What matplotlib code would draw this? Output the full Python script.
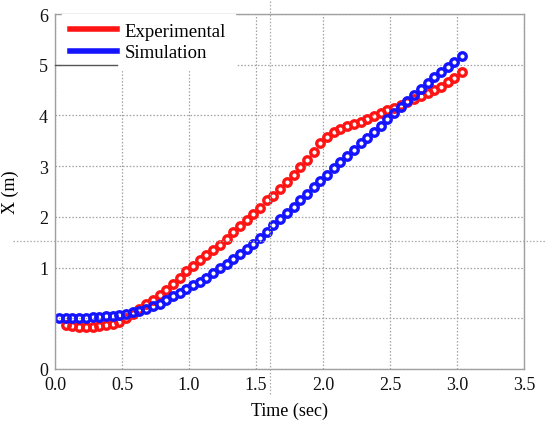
import matplotlib
matplotlib.use("Agg")
import matplotlib.pyplot as plt
from matplotlib.lines import Line2D

plt.rcParams['font.family'] = ['Liberation Serif', 'DejaVu Serif']

# Experimental data (red)
t_exp = [0.08, 0.13, 0.18, 0.23, 0.28, 0.33, 0.38, 0.43, 0.48, 0.53,
         0.58, 0.63, 0.68, 0.73, 0.78, 0.83, 0.88, 0.93, 0.98, 1.03,
         1.08, 1.13, 1.18, 1.23, 1.28, 1.33, 1.38, 1.43, 1.48, 1.53,
         1.58, 1.63, 1.68, 1.73, 1.78, 1.83, 1.88, 1.93, 1.98, 2.03,
         2.08, 2.13, 2.18, 2.23, 2.28, 2.33, 2.38, 2.43, 2.48, 2.53,
         2.58, 2.63, 2.68, 2.73, 2.78, 2.83, 2.88, 2.93, 2.98, 3.04]
x_exp = [-0.13, -0.16, -0.17, -0.17, -0.17, -0.16, -0.14, -0.11, -0.07, 0.00,
         0.08, 0.18, 0.29, 0.37, 0.45, 0.56, 0.67, 0.80, 0.93, 1.04,
         1.14, 1.25, 1.35, 1.45, 1.56, 1.70, 1.82, 1.94, 2.05, 2.18,
         2.33, 2.42, 2.55, 2.68, 2.82, 2.98, 3.12, 3.28, 3.45, 3.58,
         3.68, 3.74, 3.79, 3.84, 3.88, 3.93, 3.99, 4.04, 4.10, 4.15,
         4.21, 4.26, 4.32, 4.38, 4.44, 4.50, 4.57, 4.65, 4.74, 4.85]

# Simulation data (blue)
t_sim = [0.03, 0.08, 0.13, 0.18, 0.23, 0.28, 0.33, 0.38, 0.43, 0.48,
         0.53, 0.58, 0.63, 0.68, 0.73, 0.78, 0.83, 0.88, 0.93, 0.98,
         1.03, 1.08, 1.13, 1.18, 1.23, 1.28, 1.33, 1.38, 1.43, 1.48,
         1.53, 1.58, 1.63, 1.68, 1.73, 1.78, 1.83, 1.88, 1.93, 1.98,
         2.03, 2.08, 2.13, 2.18, 2.23, 2.28, 2.33, 2.38, 2.43, 2.48,
         2.53, 2.58, 2.63, 2.68, 2.73, 2.78, 2.83, 2.88, 2.93, 2.98, 3.04]
x_sim = [0.00, 0.00, 0.00, 0.01, 0.01, 0.02, 0.03, 0.04, 0.05, 0.07,
         0.09, 0.12, 0.15, 0.19, 0.24, 0.29, 0.36, 0.43, 0.50, 0.58,
         0.65, 0.72, 0.80, 0.90, 0.99, 1.08, 1.17, 1.26, 1.36, 1.46,
         1.58, 1.71, 1.84, 1.96, 2.07, 2.20, 2.33, 2.45, 2.58, 2.71,
         2.83, 2.96, 3.08, 3.20, 3.32, 3.45, 3.56, 3.68, 3.80, 3.92,
         4.04, 4.16, 4.28, 4.40, 4.52, 4.64, 4.75, 4.86, 4.96, 5.06, 5.18]

xticks = [0.0, 0.5, 1.0, 1.5, 2.0, 2.5, 3.0, 3.5]
xtick_labels = ["0.0", "0.5", "1.0", "1.5", "2.0", "2.5", "3.0", "3.5"]
yticks = [-1, 0, 1, 2, 3, 4, 5, 6]
ytick_labels = ["0", "", "1", "2", "3", "4", "5", "6"]

fig = plt.figure(figsize=(5.46, 4.27), dpi=100)
ax = fig.add_axes([55/546, 1 - 370/427, (524 - 55)/546, (370 - 15)/427])

ax.plot(t_exp, x_exp, linestyle='none', marker='o', markersize=5.4,
        markerfacecolor='none', markeredgecolor='#ff1414', markeredgewidth=2.4)
ax.plot(t_sim, x_sim, linestyle='none', marker='o', markersize=5.4,
        markerfacecolor='none', markeredgecolor='#1414ff', markeredgewidth=2.4)

ax.set_xlim(0, 3.5)
ax.set_ylim(-1, 6)
ax.set_xticks(xticks)
ax.set_xticklabels(xtick_labels)
ax.set_yticks(yticks)
ax.set_yticklabels(ytick_labels)
ax.tick_params(length=0, labelsize=13, colors='#111111')
ax.tick_params(axis='x', pad=5)
ax.tick_params(axis='y', pad=5)
ax.grid(True, linestyle=(0, (1.2, 1.5)), color='#a0a0a0', linewidth=0.9)
ax.set_axisbelow(True)
for s in ax.spines.values():
    s.set_color('#a0a0a0')
    s.set_linewidth(1.0)

ax.set_xlabel("Time (sec)", fontsize=13, labelpad=6)
ax.set_ylabel("X (m)", fontsize=13, labelpad=14)

handles = [Line2D([0], [0], color='#ff1414', lw=4),
           Line2D([0], [0], color='#1414ff', lw=4)]
leg = ax.legend(handles, ["Experimental", "Simulation"], loc='upper left',
                bbox_to_anchor=(7/469, 1.0),
                fontsize=13.5, frameon=True, fancybox=False, framealpha=1,
                edgecolor='white', facecolor='white', handlelength=2.5,
                handletextpad=0.4, borderpad=0.45, borderaxespad=0.0,
                labelspacing=0.25)
leg.set_zorder(5)

# dark segment under legend
ax.plot([0.0, 0.46], [5.0, 5.0], color='#555555', lw=1.0,
        zorder=6, clip_on=False)

# scan artifact lines
fig.add_artist(Line2D([13/546, 1.0], [1 - 242/427, 1 - 242/427],
                      color='#aaaaaa', lw=0.9, linestyle=(0, (1.2, 1.5))))
fig.add_artist(Line2D([270/546, 270/546], [1 - 395/427, 1.0],
                      color='#aaaaaa', lw=0.9, linestyle=(0, (1.2, 1.5))))

fig.savefig("out.png", dpi=100)
